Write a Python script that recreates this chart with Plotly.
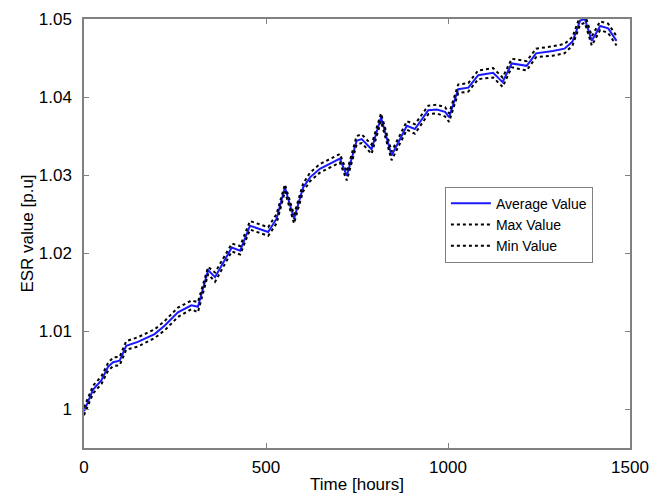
import plotly.graph_objects as go

time_h = [0, 25, 48, 66, 80, 98, 116, 148, 194, 222, 258, 295, 313, 341, 360, 406, 429, 456,
          506, 529, 552, 577, 602, 621, 648, 694, 703, 722, 749, 763, 790, 816, 845, 887,
          909, 946, 969, 992, 1003, 1028, 1056, 1083, 1124, 1150, 1175, 1216, 1242, 1288,
          1320, 1342, 1363, 1376, 1395, 1418, 1440, 1463]

avg_val = [0.9997, 1.0025, 1.0037, 1.0054, 1.0060, 1.0062, 1.0081, 1.0086, 1.0096, 1.0107,
           1.0124, 1.0133, 1.0131, 1.0178, 1.0169, 1.0207, 1.0203, 1.0235, 1.0227, 1.0244,
           1.0284, 1.0244, 1.0284, 1.0297, 1.0308, 1.0319, 1.0321, 1.0299, 1.0344, 1.0346,
           1.0333, 1.0374, 1.0325, 1.0363, 1.0359, 1.0383, 1.0384, 1.0381, 1.0374, 1.0410,
           1.0412, 1.0428, 1.0431, 1.0419, 1.0443, 1.0440, 1.0456, 1.0459, 1.0462, 1.0471,
           1.0498, 1.0500, 1.0472, 1.0491, 1.0488, 1.0472]

max_val = [1.0002, 1.0030, 1.0042, 1.0059, 1.0066, 1.0067, 1.0087, 1.0092, 1.0102, 1.0113,
           1.0130, 1.0139, 1.0137, 1.0182, 1.0175, 1.0212, 1.0209, 1.0241, 1.0233, 1.0250,
           1.0288, 1.0249, 1.0289, 1.0303, 1.0314, 1.0325, 1.0327, 1.0304, 1.0350, 1.0352,
           1.0339, 1.0379, 1.0330, 1.0369, 1.0365, 1.0389, 1.0390, 1.0387, 1.0379, 1.0416,
           1.0418, 1.0434, 1.0437, 1.0425, 1.0449, 1.0446, 1.0462, 1.0465, 1.0468, 1.0477,
           1.0504, 1.0506, 1.0478, 1.0497, 1.0494, 1.0478]

min_val = [0.9992, 1.0020, 1.0032, 1.0049, 1.0055, 1.0056, 1.0076, 1.0080, 1.0091, 1.0101,
           1.0118, 1.0128, 1.0124, 1.0173, 1.0163, 1.0202, 1.0198, 1.0230, 1.0222, 1.0238,
           1.0279, 1.0238, 1.0279, 1.0292, 1.0303, 1.0314, 1.0316, 1.0293, 1.0339, 1.0341,
           1.0327, 1.0369, 1.0319, 1.0358, 1.0353, 1.0378, 1.0379, 1.0375, 1.0368, 1.0405,
           1.0407, 1.0423, 1.0425, 1.0413, 1.0438, 1.0434, 1.0451, 1.0453, 1.0456, 1.0466,
           1.0493, 1.0495, 1.0466, 1.0486, 1.0482, 1.0466]

x_ticks = [0, 500, 1000, 1500]
y_ticks = [1.0, 1.01, 1.02, 1.03, 1.04, 1.05]
y_tick_text = ["1", "1.01", "1.02", "1.03", "1.04", "1.05"]

FONT = "Liberation Sans, Arial, sans-serif"

fig = go.Figure()
fig.add_trace(go.Scatter(x=time_h, y=avg_val, mode="lines", name="Average Value",
                         line=dict(color="#1a1aff", width=2)))
fig.add_trace(go.Scatter(x=time_h, y=max_val, mode="lines", name="Max Value",
                         line=dict(color="black", width=2, dash="dot")))
fig.add_trace(go.Scatter(x=time_h, y=min_val, mode="lines", name="Min Value",
                         line=dict(color="black", width=2, dash="dot")))

axis_common = dict(showline=True, linecolor="#808080", linewidth=1.5, mirror="allticks",
                   ticks="inside", ticklen=5, tickcolor="#808080", showgrid=False,
                   zeroline=False, automargin=False,
                   tickfont=dict(family=FONT, size=17, color="black"))

fig.update_layout(
    width=666, height=496,
    margin=dict(l=84, r=36, t=19, b=48),
    paper_bgcolor="white", plot_bgcolor="white",
    font=dict(family=FONT, color="black"),
    xaxis=dict(range=[0, 1500], tickvals=x_ticks, ticklabelstandoff=3,
               title=dict(text="Time [hours]", font=dict(family=FONT, size=17), standoff=2),
               **axis_common),
    yaxis=dict(range=[0.995, 1.05], tickvals=y_ticks, ticktext=y_tick_text,
               title=dict(text="ESR value [p.u]", font=dict(family=FONT, size=17), standoff=1),
               ticklabelstandoff=7, **axis_common),
    legend=dict(x=0.661, y=0.609, xanchor="left", yanchor="top",
                bordercolor="#808080", borderwidth=1, bgcolor="white",
                font=dict(family=FONT, size=14), itemwidth=40,
                tracegroupgap=0),
    showlegend=True,
)

fig.write_html("out.html")
